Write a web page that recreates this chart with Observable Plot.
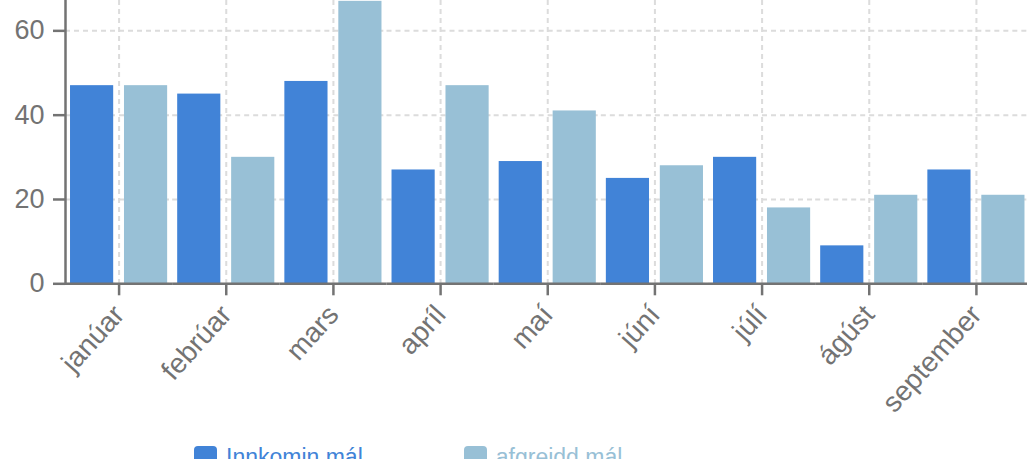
<!DOCTYPE html>
<html>
<head>
<meta charset="utf-8">
<script src="https://cdn.jsdelivr.net/npm/d3@7"></script>
<script src="https://cdn.jsdelivr.net/npm/@observablehq/plot@0.6"></script>
<style>
  html, body { margin: 0; padding: 0; background: #fff; overflow: hidden; }
  body { width: 1027px; height: 459px; font-family: "Liberation Sans", Arial, sans-serif; }
  #chart svg { display: block; }
  #legend { display: flex; align-items: center; margin-top: 16px; padding-left: 194px; font-size: 23px; line-height: 23px; }
  .item { display: flex; align-items: center; }
  .sw { width: 23px; height: 23px; border-radius: 4px; margin-right: 9px; }
</style>
</head>
<body>
<div id="chart"></div>
<div id="legend"></div>
<script>
const months = ["janúar", "febrúar", "mars", "apríl", "maí", "júní", "júlí", "ágúst", "september"];
const series = ["Innkomin mál", "afgreidd mál"];
const innkomin = [47, 45, 48, 27, 29, 25, 30, 9, 27];
const afgreidd = [47, 30, 67, 47, 41, 28, 18, 21, 21];
const colors = ["#4183d7", "#98c0d6"];
const yTicks = [0, 20, 40, 60];

const data = months.flatMap((m, i) => [
  {month: m, series: series[0], value: innkomin[i]},
  {month: m, series: series[1], value: afgreidd[i]}
]);

const axisColor = "#737373";
const gridColor = "#dcdcdc";

const chart = Plot.plot({
  width: 1027,
  height: 430,
  marginTop: 0,
  marginLeft: 65,
  marginRight: -2.5,
  marginBottom: 146.7,
  style: {fontFamily: "'Liberation Sans', Arial, sans-serif", background: "#fff", overflow: "visible"},
  fx: {domain: months, padding: 0, round: false, label: null},
  x: {domain: series, paddingInner: 0.2, paddingOuter: 0.093, round: false, axis: null},
  y: {domain: [0, 67.2], label: null, axis: null},
  color: {domain: series, range: colors},
  marks: [
    Plot.gridY(yTicks, {stroke: gridColor, strokeOpacity: 1, strokeWidth: 2, strokeDasharray: "5,4"}),
    Plot.gridFx({stroke: gridColor, strokeOpacity: 1, strokeWidth: 2, strokeDasharray: "5,4"}),
    Plot.barY(data, {fx: "month", x: "series", y: "value", fill: "series", inset: 0}),
    Plot.ruleY([0], {stroke: axisColor, strokeWidth: 2.5}),
    Plot.frame({anchor: "left", facetAnchor: "left", stroke: axisColor, strokeWidth: 2.5}),
    Plot.axisY(yTicks, {tickSize: 12, tickPadding: 9, fontSize: 27, color: axisColor, strokeWidth: 2.5, label: null}),
    Plot.axisFx({anchor: "bottom", tickRotate: -48, tickSize: 12, tickPadding: 14, fontSize: 28, color: axisColor, strokeWidth: 2.5, label: null})
  ]
});
document.getElementById("chart").append(chart);

const legend = document.getElementById("legend");
series.forEach((s, i) => {
  const item = document.createElement("div");
  item.className = "item";
  item.style.marginRight = i === 0 ? "101px" : "0";
  const sw = document.createElement("div");
  sw.className = "sw";
  sw.style.background = colors[i];
  const t = document.createElement("span");
  t.textContent = s;
  t.style.color = colors[i];
  item.append(sw, t);
  legend.append(item);
});
</script>
</body>
</html>
